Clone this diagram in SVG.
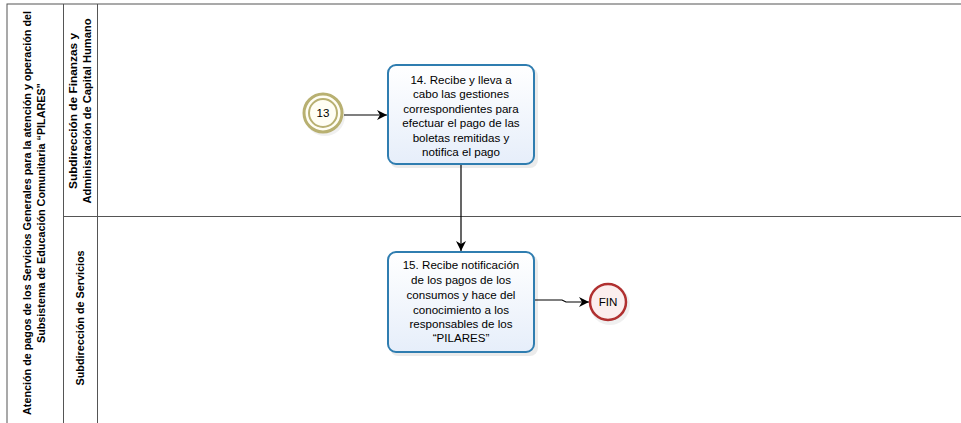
<svg xmlns="http://www.w3.org/2000/svg" width="961" height="423" viewBox="0 0 961 423">
<defs>
<style>
.pool{fill:#ffffff;stroke:#555;stroke-width:1}
.ln{stroke:#555;stroke-width:1;fill:none}
.hdr{font-family:"Liberation Sans",Arial,sans-serif;font-size:11px;font-weight:bold;fill:#000;text-anchor:middle}
.tt{font-family:"Liberation Sans",Arial,sans-serif;font-size:11.6px;fill:#000;text-anchor:middle}
.task{fill:url(#tg);stroke:#2f7db0;stroke-width:2}
.shadow{fill:#000;opacity:0.08}
.conn{stroke:#000;stroke-width:1.2;fill:none;marker-end:url(#ah)}
</style>
<linearGradient id="tg" x1="0" y1="0" x2="0" y2="1">
<stop offset="0" stop-color="#ffffff"/>
<stop offset="1" stop-color="#e6eefa"/>
</linearGradient>
<marker id="ah" viewBox="0 0 10 10" refX="10" refY="5" markerWidth="10" markerHeight="10" markerUnits="userSpaceOnUse" orient="auto">
<path d="M0,0 L10,5 L0,10 L3,5 Z" fill="#000"/>
</marker>
</defs>
<g id="pool">
<rect class="pool" x="7" y="4" width="960" height="430"/>
<line class="ln" x1="63.5" y1="4" x2="63.5" y2="423"/>
<line class="ln" x1="97.5" y1="4" x2="97.5" y2="423"/>
<line class="ln" x1="63.5" y1="216.5" x2="961" y2="216.5"/>
<text class="hdr" transform="translate(31,213) rotate(-90)" textLength="404" lengthAdjust="spacingAndGlyphs">Atención de pagos de los Servicios Generales para la atención y operación del</text>
<text class="hdr" transform="translate(45,213) rotate(-90)" textLength="260" lengthAdjust="spacingAndGlyphs">Subsistema de Educación Comunitaria “PILARES”</text>
</g>
<g id="lane1">
<text class="hdr" transform="translate(77,111) rotate(-90)" textLength="156" lengthAdjust="spacingAndGlyphs">Subdirección de Finanzas y</text>
<text class="hdr" transform="translate(91,111) rotate(-90)" textLength="185" lengthAdjust="spacingAndGlyphs">Administración de Capital Humano</text>
</g>
<g id="lane2">
<text class="hdr" transform="translate(84,318) rotate(-90)" textLength="135" lengthAdjust="spacingAndGlyphs">Subdirección de Servicios</text>
</g>
<g id="connectors">
<line class="conn" x1="344" y1="115" x2="387" y2="115"/>
<line class="conn" x1="461" y1="165" x2="461" y2="251"/>
<polyline class="conn" points="535,300 562,300 566,302 589,302"/>
</g>
<g id="ev13">
<circle cx="325" cy="116" r="20" fill="#000" opacity="0.06"/>
<circle cx="323" cy="113" r="19" fill="#fffef4" stroke="#b8b071" stroke-width="3"/>
<circle cx="323" cy="113" r="14" fill="#fffef4" stroke="#b8b071" stroke-width="2"/>
<text class="tt" x="323" y="117">13</text>
</g>
<g id="task14">
<rect class="shadow" x="390" y="68" width="148" height="100" rx="8"/>
<rect class="task" x="388" y="65" width="146" height="99" rx="8"/>
<text class="tt" x="461" y="84">14. Recibe y lleva a</text>
<text class="tt" x="461" y="98">cabo las gestiones</text>
<text class="tt" x="461" y="113">correspondientes para</text>
<text class="tt" x="461" y="127">efectuar el pago de las</text>
<text class="tt" x="461" y="142">boletas remitidas y</text>
<text class="tt" x="461" y="156">notifica el pago</text>
</g>
<g id="task15">
<rect class="shadow" x="390" y="255" width="148" height="101" rx="8"/>
<rect class="task" x="388" y="252" width="146" height="100" rx="8"/>
<text class="tt" x="461" y="269">15. Recibe notificación</text>
<text class="tt" x="461" y="284">de los pagos de los</text>
<text class="tt" x="461" y="299">consumos y hace del</text>
<text class="tt" x="461" y="314">conocimiento a los</text>
<text class="tt" x="461" y="328">responsables de los</text>
<text class="tt" x="461" y="342">“PILARES”</text>
</g>
<g id="fin">
<circle cx="610" cy="305" r="20" fill="#000" opacity="0.06"/>
<circle cx="608" cy="302" r="18" fill="#fbeeee" stroke="#b03030" stroke-width="2.5"/>
<text class="tt" x="608" y="306">FIN</text>
</g>
</svg>
